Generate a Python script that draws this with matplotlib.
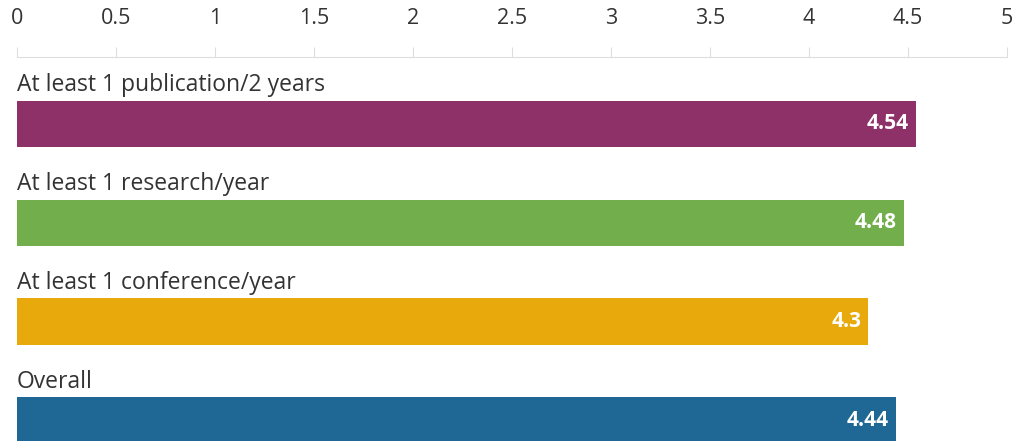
import matplotlib.pyplot as plt
from matplotlib.transforms import offset_copy

plt.rcParams['font.family'] = ['Open Sans', 'DejaVu Sans']

categories = ["At least 1 publication/2 years", "At least 1 research/year",
              "At least 1 conference/year", "Overall"]
values = [4.54, 4.48, 4.3, 4.44]
colors = ["#8E3169", "#72AF4C", "#E8A90C", "#1F6895"]
ticks = [0, 0.5, 1, 1.5, 2, 2.5, 3, 3.5, 4, 4.5, 5]

fig = plt.figure(figsize=(10.18, 4.41), dpi=100)
ax = fig.add_axes([17 / 1018, 0, 990 / 1018, 384 / 441])

pos = list(range(len(categories)))
ax.barh(pos, values, height=0.465, color=colors)
ax.set_xlim(0, 5)
ax.set_ylim(3.207, -0.672)

for i, (cat, v) in enumerate(zip(categories, values)):
    ax.text(0, i - 0.39, cat, fontsize=16.5, color="#333333", va="center", ha="left")
    tr = offset_copy(ax.transData, fig=fig, x=-7, y=0, units="dots")
    ax.text(v, i, f"{v:g}", transform=tr, fontsize=15, fontweight="bold",
            color="white", va="center", ha="right")

for s in ["left", "right", "bottom"]:
    ax.spines[s].set_visible(False)
ax.spines["top"].set_color("#dddddd")
ax.xaxis.tick_top()
ax.set_xticks(ticks)
ax.set_xticklabels([f"{t:g}" for t in ticks])
ax.tick_params(axis="x", length=7, color="#dddddd", labelsize=15.5,
               labelcolor="#333333", pad=13)
ax.set_yticks([])

fig.savefig("out.png", dpi=100)
